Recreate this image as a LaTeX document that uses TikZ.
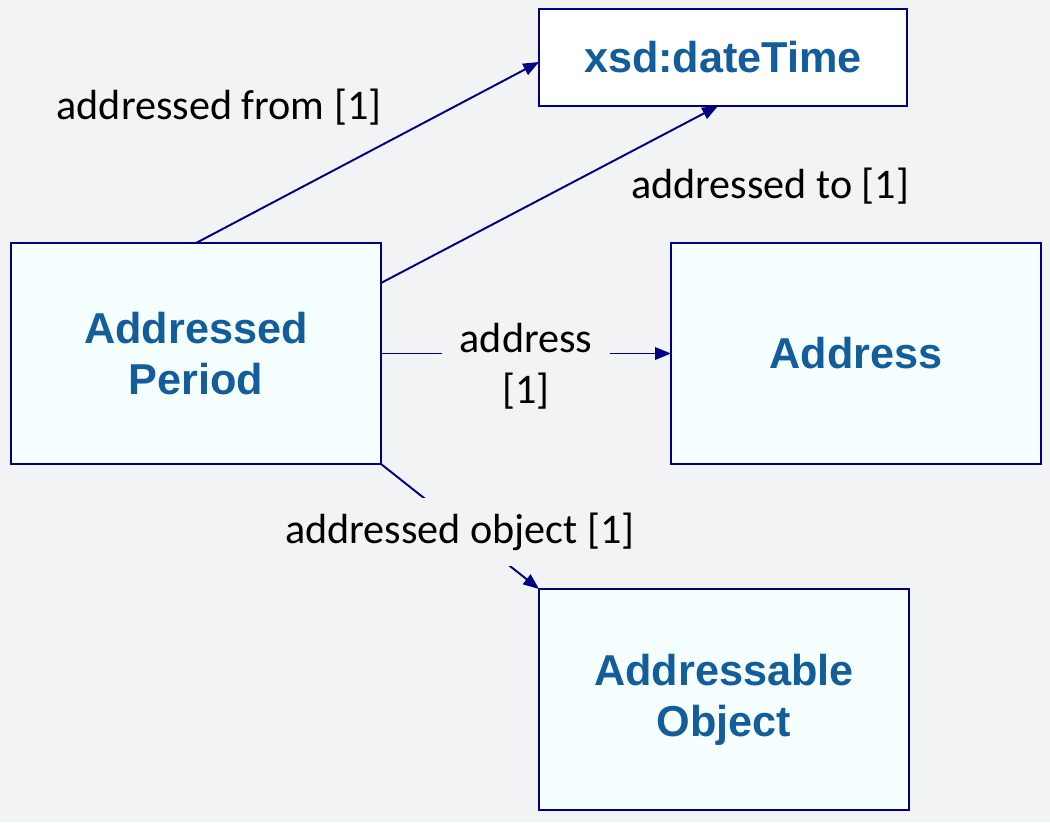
\documentclass[tikz,border=0pt]{standalone}
\usepackage{fontspec}
\setmainfont{Carlito}
\newfontfamily\boxfont{Liberation Sans}
\usepackage{tikz}
\usetikzlibrary{positioning,calc,arrows.meta}
\definecolor{bgray}{HTML}{F2F3F5}
\definecolor{boxfill}{HTML}{F5FFFF}
\definecolor{boxline}{HTML}{000080}
\definecolor{boxtext}{HTML}{135E9A}

\begin{document}
\begin{tikzpicture}[x=0.02cm, y=-0.02cm,
    cls box/.style={draw=boxline, line width=1.1pt, fill=boxfill, rectangle, minimum width=7.4cm, minimum height=4.42cm, align=center, inner sep=0pt, outer sep=0pt, font=\boxfont\bfseries\fontsize{24.6}{29}\selectfont, text=boxtext},
    rel/.style={draw=boxline, line width=1.1pt, -{Triangle[length=9pt,width=7pt]}},
    rel label/.style={font=\fontsize{24}{29}\selectfont, align=center, text=black}]
    \fill[bgray] (0,0) rectangle (1050,822);
    \useasboundingbox (0,0) rectangle (1050,822);

    \node[cls box, fill=white, minimum width=7.36cm, minimum height=1.94cm] (dt) at (723,57.5) {xsd:dateTime};
    \node[cls box] (period) at (196,353.5) {Addressed \\ Period};
    \node[cls box] (addr) at (856,353.5) {Address};
    \node[cls box] (obj) at (724,699.5) {Addressable \\ Object};

    \node[rel label] (lfrom) at (219,107) {addressed from [1]};
    \node[rel label] (lto) at (770,186) {addressed to [1]};

    \draw[rel] (period.north) -- ([yshift=-0.09cm]dt.west);
    \draw[rel] ([yshift=-0.8cm]period.north east) -- ([xshift=-0.1cm]dt.south);
    \draw[rel] (period.east) -- node[rel label, fill=bgray, inner xsep=0.36cm, yshift=-0.26cm] (laddr) {address \\ {[1]}} (addr.west);
    \draw[rel] (period.south east) -- node[rel label, fill=bgray, inner sep=0.3cm, yshift=-0.11cm] (lobj) {addressed object [1]} (obj.north west);
\end{tikzpicture}
\end{document}
